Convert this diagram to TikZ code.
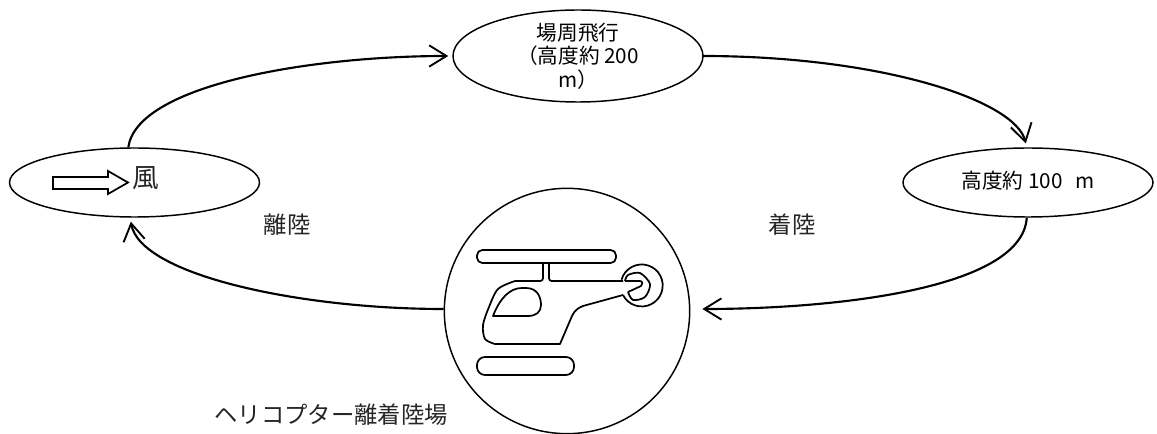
\documentclass[tikz,border=0pt]{standalone}
\usepackage{fontspec}
\setmainfont{Noto Sans CJK JP}
\usetikzlibrary{arrows.meta,shapes.geometric}
\tikzset{
  basic/.style  = {draw, ellipse, line width=1.1pt, inner sep=0pt, align=center},
  stage/.style  = {basic, minimum width=187.5pt, minimum height=51.75pt},
  pattern/.style = {draw, circle, line width=1.1pt, inner sep=0pt, minimum size=184pt},
  caption/.style = {font=\fontsize{17.5}{20}\selectfont, text=black!85},
  conn/.style   = {draw, line width=1.6pt, -{Straight Barb[length=13pt,width=16pt,line width=1.4pt]}},
  heli/.style   = {draw, line width=1.3pt, line join=round}
}

\begin{document}
\begin{tikzpicture}[x=0.75pt,y=-0.75pt]
	\useasboundingbox (0,0) rectangle (1157,434);

	% the stages of the flight pattern
	\node[stage] (wind) at (134.5,182.5) {};
	\node[stage, minimum height=69pt, inner ysep=-6pt,
	  font=\fontsize{15.5}{17.6}\selectfont] (circuit) at (578,56)
	  {場周飛行\\（高度約 200\\m）};
	\node[stage, font=\fontsize{15.5}{17.6}\selectfont] (descent) at (1028,182.5)
	  {\raisebox{4.5pt}{高度約 100\ \ \,m}};
	\node[pattern] (heliport) at (567,311) {};

	% wind arrow and its label
	\node[font=\fontsize{20}{22}\selectfont, text=black!85] (windtext) at (146,178) {風};
	\draw[line width=1.3pt] (53,177) -- (108,177) -- (108,171) -- (128,182.5)
	  -- (108,194) -- (108,189) -- (53,189) -- cycle;

	% labels
	\node[caption] (takeoff) at (287,225) {離陸};
	\node[caption] (landing) at (792,225) {着陸};
	\node[caption] (heliname) at (331,415) {ヘリコプター離着陸場};

	% lines from each stage to the next one
	\draw[conn, shorten >=3pt] (wind.100) .. controls (137,85) and (310,56) .. (circuit.west);
	\draw[conn, shorten <=-1pt, shorten >=3pt] (circuit.east) .. controls (880,56) and (1015,100) .. (descent.92);
	\draw[conn, shorten >=9pt] (descent.268) .. controls (1022,290) and (830,309) .. (heliport.east |- 0,309);
	\draw[conn, shorten >=3pt] (heliport.west |- 0,309) .. controls (300,309) and (140,275) .. (wind.263);

	% the helicopter inside the circle
	\draw[heli, rounded corners=4pt] (477,250) rectangle (616,263);
	\draw[heli, rounded corners=6pt] (477,357) rectangle (574,375);
	\draw[heli, rounded corners=2pt] (543,263) -- (543,281) -- (515,281);
	\draw[heli] plot[smooth] coordinates {(515,281) (498,289) (489,307) (483,325) (485,339) (495,344)};
	\draw[heli] (495,344) -- (560,344) -- (572,316)
	  .. controls (575,310) and (578,308) .. (583,306) -- (623,295);
	\draw[heli] (623,295) arc[start angle=153, end angle=-164, radius=21];
	\draw[heli, rounded corners=2pt] (623,281) -- (549,281) -- (549,263);
	\draw[heli] plot[smooth] coordinates {(628,292) (633,300) (645,297) (650,284) (640,273) (628,275) (625,281)};
	\draw[heli] (625,281) -- (640,281) .. controls (643,281) and (643,285) .. (641,286) -- (628,292);
	\draw[heli] (493,316) .. controls (500,298) and (510,288) .. (522,288) -- (526,288)
	  .. controls (538,288) and (541,298) .. (541,305)
	  .. controls (541,312) and (536,316) .. (528,316) -- cycle;
\end{tikzpicture}
\end{document}
